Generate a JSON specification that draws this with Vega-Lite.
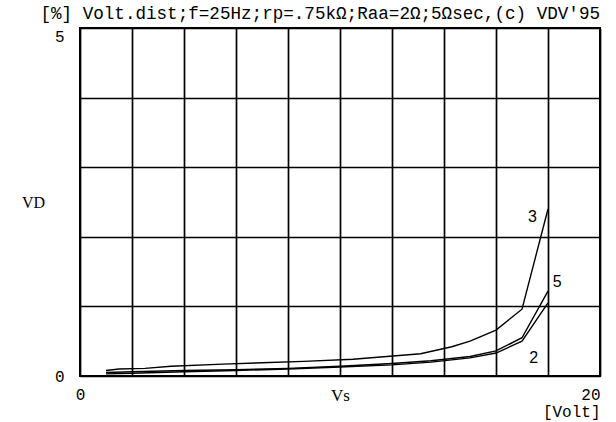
{
  "$schema": "https://vega.github.io/schema/vega-lite/v6.json",
  "width": 520,
  "height": 348,
  "autosize": {"type": "none"},
  "padding": {"left": 80, "top": 28, "right": 16, "bottom": 46},
  "background": "white",
  "title": {
    "text": "[%] Volt.dist;f=25Hz;rp=.75kΩ;Raa=2Ω;5Ωsec,(c) VDV'95",
    "anchor": "end",
    "frame": "group",
    "font": "Liberation Mono",
    "fontSize": 17.6,
    "fontWeight": "normal",
    "color": "black",
    "offset": 5,
    "dy": 18,
    "baseline": "bottom"
  },
  "config": {
    "view": {"stroke": "black", "strokeWidth": 2},
    "axis": {
      "grid": true,
      "gridColor": "black",
      "gridOpacity": 1,
      "gridWidth": 1.7,
      "domain": false,
      "ticks": false,
      "labelColor": "black",
      "titleColor": "black"
    }
  },
  "datasets": {
    "curves": [
      {"series": "3", "Vs": 1, "VD": 0.08},
      {"series": "3", "Vs": 1.5, "VD": 0.10},
      {"series": "3", "Vs": 2.5, "VD": 0.11},
      {"series": "3", "Vs": 3.5, "VD": 0.14},
      {"series": "3", "Vs": 5.5, "VD": 0.17},
      {"series": "3", "Vs": 7, "VD": 0.19},
      {"series": "3", "Vs": 8.6, "VD": 0.21},
      {"series": "3", "Vs": 10.5, "VD": 0.24},
      {"series": "3", "Vs": 11.8, "VD": 0.28},
      {"series": "3", "Vs": 13.1, "VD": 0.32},
      {"series": "3", "Vs": 14.3, "VD": 0.42},
      {"series": "3", "Vs": 15, "VD": 0.5},
      {"series": "3", "Vs": 16, "VD": 0.66},
      {"series": "3", "Vs": 17, "VD": 0.96},
      {"series": "3", "Vs": 18, "VD": 2.4},
      {"series": "5", "Vs": 1, "VD": 0.05},
      {"series": "5", "Vs": 2, "VD": 0.06},
      {"series": "5", "Vs": 4, "VD": 0.08},
      {"series": "5", "Vs": 6, "VD": 0.09},
      {"series": "5", "Vs": 8, "VD": 0.11},
      {"series": "5", "Vs": 10, "VD": 0.14},
      {"series": "5", "Vs": 12, "VD": 0.18},
      {"series": "5", "Vs": 13.5, "VD": 0.22},
      {"series": "5", "Vs": 15, "VD": 0.28},
      {"series": "5", "Vs": 16, "VD": 0.36},
      {"series": "5", "Vs": 17, "VD": 0.55},
      {"series": "5", "Vs": 18, "VD": 1.22},
      {"series": "2", "Vs": 1, "VD": 0.03},
      {"series": "2", "Vs": 2, "VD": 0.04},
      {"series": "2", "Vs": 4, "VD": 0.06},
      {"series": "2", "Vs": 6, "VD": 0.08},
      {"series": "2", "Vs": 8, "VD": 0.10},
      {"series": "2", "Vs": 10, "VD": 0.13},
      {"series": "2", "Vs": 12, "VD": 0.16},
      {"series": "2", "Vs": 13.5, "VD": 0.20},
      {"series": "2", "Vs": 15, "VD": 0.26},
      {"series": "2", "Vs": 16, "VD": 0.33},
      {"series": "2", "Vs": 17, "VD": 0.50},
      {"series": "2", "Vs": 18, "VD": 1.05}
    ],
    "labels": [
      {"label": "3", "Vs": 17.4, "VD": 2.28},
      {"label": "5", "Vs": 18.35, "VD": 1.35},
      {"label": "2", "Vs": 17.45, "VD": 0.26}
    ]
  },
  "layer": [
    {
      "data": {"name": "curves"},
      "mark": {"type": "line", "color": "black", "strokeWidth": 1.4, "clip": true},
      "encoding": {
        "x": {
          "field": "Vs", "type": "quantitative",
          "scale": {"domain": [0, 20], "nice": false, "zero": false},
          "axis": {
            "values": [0, 2, 4, 6, 8, 10, 12, 14, 16, 18, 20],
            "labelExpr": "datum.value == 0 ? '0' : (datum.value == 20 ? ['20', '[Volt]'] : '')",
            "labelAlign": {"condition": {"test": "datum.value == 20", "value": "right"}, "value": "center"},
            "labelFont": "Liberation Mono",
            "labelFontSize": 16,
            "labelPadding": 10,
            "labelLineHeight": 17,
            "labelFlush": false,
            "labelOverlap": false,
            "title": "Vs",
            "titleFont": "Liberation Serif",
            "titleFontSize": 17,
            "titleFontWeight": "normal",
            "titleX": 260,
            "titleY": 19,
            "titleAlign": "center",
            "titleBaseline": "middle"
          }
        },
        "y": {
          "field": "VD", "type": "quantitative",
          "scale": {"domain": [0, 5], "nice": false, "zero": false},
          "axis": {
            "values": [0, 1, 2, 3, 4, 5],
            "labelExpr": "datum.value == 0 ? '0' : (datum.value == 5 ? '5' : '')",
            "labelBaseline": {"condition": {"test": "datum.value == 5", "value": "top"}, "value": "middle"},
            "labelFont": "Liberation Mono",
            "labelFontSize": 16,
            "labelPadding": 16,
            "labelFlush": false,
            "labelOverlap": false,
            "title": "VD",
            "titleAngle": 0,
            "titleFont": "Liberation Serif",
            "titleFontSize": 16,
            "titleFontWeight": "normal",
            "titleX": -47,
            "titleY": 174,
            "titleAlign": "center",
            "titleBaseline": "middle"
          }
        },
        "detail": {"field": "series"},
        "order": {"field": "Vs"}
      }
    },
    {
      "data": {"name": "labels"},
      "mark": {"type": "text", "font": "Liberation Sans", "fontSize": 16, "color": "black", "align": "center", "baseline": "middle"},
      "encoding": {
        "x": {"field": "Vs", "type": "quantitative"},
        "y": {"field": "VD", "type": "quantitative"},
        "text": {"field": "label"}
      }
    }
  ]
}
